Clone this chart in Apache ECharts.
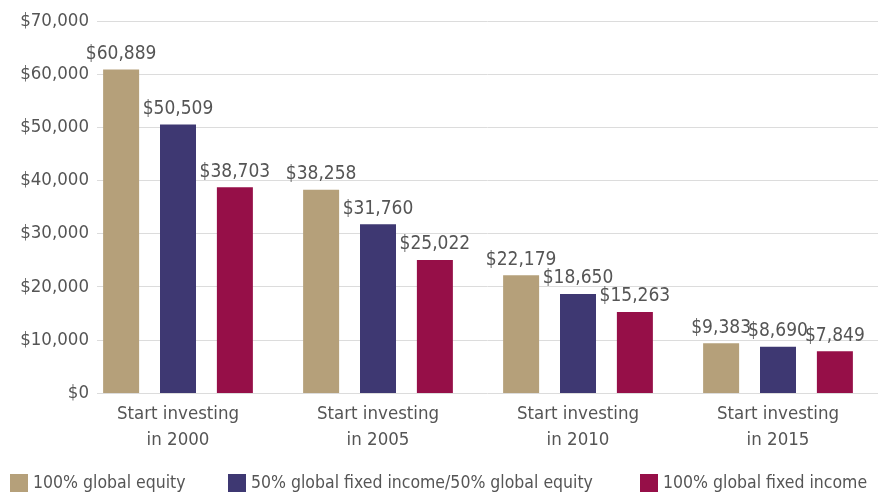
<!DOCTYPE html>
<html>
<head>
<meta charset="utf-8">
<script src="https://cdn.jsdelivr.net/npm/echarts@6/dist/echarts.min.js"></script>
<style>
  html, body { margin: 0; padding: 0; background: #fff; }
  #chart { width: 878px; height: 495px; }
</style>
</head>
<body>
<div id="chart"></div>
<script>
// 数据
const categories = ["Start investing\nin 2000", "Start investing\nin 2005", "Start investing\nin 2010", "Start investing\nin 2015"];
const seriesNames = ["100% global equity", "50% global fixed income/50% global equity", "100% global fixed income"];
const equity = [60889, 38258, 22179, 9383];
const balanced = [50509, 31760, 18650, 8690];
const fixedIncome = [38703, 25022, 15263, 7849];
const yTicks = [0, 10000, 20000, 30000, 40000, 50000, 60000, 70000];

const colors = ["#b5a07a", "#3e3872", "#960f48"];
const font = "'Liberation Sans Narrow', 'DejaVu Sans Condensed', 'Roboto', sans-serif";
const textColor = "#555555";
const fontSize = 18.5;

function money(v) {
    return "$" + Number(v).toLocaleString("en-US");
}

const chart = echarts.init(document.getElementById("chart"));

function barSeries(name, data, color) {
    return {
        name: name,
        type: "bar",
        xAxisIndex: 1,
        yAxisIndex: 1,
        data: data,
        barWidth: 36,
        barGap: "58%",
        itemStyle: { color: color },
        label: {
            show: true,
            position: "top",
            distance: 6,
            formatter: (p) => money(p.value),
            color: textColor,
            fontFamily: font,
            fontSize: 19,
        },
    };
}

// 图例位置（每项单独放置）
const legendLefts = [10, 228, 640];
const legends = seriesNames.map((name, i) => ({
    left: legendLefts[i],
    top: 474,
    padding: 0,
    itemWidth: 18,
    itemHeight: 18,
    icon: "rect",
    textStyle: { color: textColor, fontFamily: font, fontSize: 17.5 },
    data: [name],
}));

const option = {
    animation: false,
    color: colors,
    textStyle: { fontFamily: font },
    grid: [
        // 网格线与y轴标签
        { left: 97, right: 0, top: 21, bottom: 102 },
        // 柱状图
        { left: 78, right: 0, top: 21, bottom: 102 },
    ],
    xAxis: [
        { type: "category", gridIndex: 0, data: categories, show: false },
        {
            type: "category",
            gridIndex: 1,
            data: categories,
            axisLine: { show: false },
            axisTick: { show: false },
            axisLabel: {
                color: textColor,
                fontFamily: font,
                fontSize: fontSize,
                lineHeight: 26,
                margin: 8,
            },
        },
    ],
    yAxis: [
        {
            type: "value",
            gridIndex: 0,
            min: yTicks[0],
            max: yTicks[yTicks.length - 1],
            interval: 10000,
            axisLine: { show: false },
            axisTick: { show: false },
            splitLine: { lineStyle: { color: "#dcdcdc", width: 1 } },
            axisLabel: {
                color: textColor,
                fontFamily: font,
                fontSize: fontSize,
                margin: 8,
                formatter: (v) => money(v),
            },
        },
        {
            type: "value",
            gridIndex: 1,
            min: yTicks[0],
            max: yTicks[yTicks.length - 1],
            interval: 10000,
            show: false,
            splitLine: { show: false },
        },
    ],
    legend: legends,
    series: [
        barSeries(seriesNames[0], equity, colors[0]),
        barSeries(seriesNames[1], balanced, colors[1]),
        barSeries(seriesNames[2], fixedIncome, colors[2]),
    ],
};

chart.setOption(option);
</script>
</body>
</html>
